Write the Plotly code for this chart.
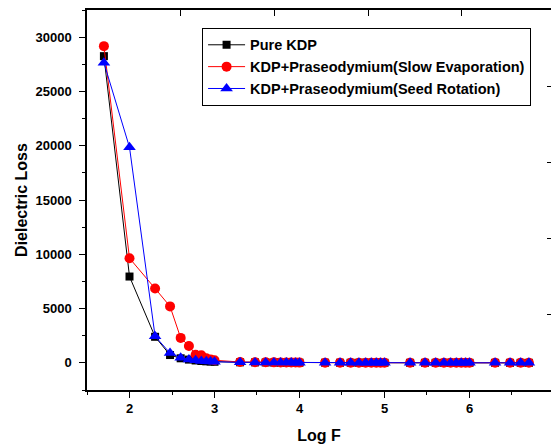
import plotly.graph_objects as go

log_f = [1.699, 2.0, 2.301, 2.477, 2.602, 2.699, 2.778, 2.845, 2.903, 2.954, 3.0,
         3.301, 3.477, 3.602, 3.699, 3.778, 3.845, 3.903, 3.954, 4.0,
         4.301, 4.477, 4.602, 4.699, 4.778, 4.845, 4.903, 4.954, 5.0,
         5.301, 5.477, 5.602, 5.699, 5.778, 5.845, 5.903, 5.954, 6.0,
         6.301, 6.477, 6.602, 6.699]

pure_kdp = [28250, 7950, 2400, 720, 420, 300, 220, 170, 140, 120, 100,
            50, 42, 36, 32, 28, 25, 22, 20, 18,
            15, 13, 12, 11, 10, 10, 9, 9, 8,
            8, 7, 7, 7, 6, 6, 6, 6, 5,
            5, 5, 5, 5]

slow_evap = [29170, 9640, 6850, 5200, 2300, 1560, 750, 690, 420, 320, 240,
             80, 60, 50, 45, 40, 35, 30, 28, 25,
             20, 18, 16, 15, 14, 13, 12, 12, 11,
             10, 10, 9, 9, 9, 8, 8, 8, 8,
             7, 7, 7, 7]

seed_rot = [27650, 19850, 2450, 900, 470, 310, 230, 180, 140, 120, 100,
            50, 42, 36, 32, 28, 25, 22, 20, 18,
            15, 13, 12, 11, 10, 10, 9, 9, 8,
            8, 7, 7, 7, 6, 6, 6, 6, 5,
            5, 5, 5, 5]

names = ["Pure KDP",
         "KDP+Praseodymium(Slow Evaporation)",
         "KDP+Praseodymium(Seed Rotation)"]

FONT = "Liberation Sans, Arial, sans-serif"

fig = go.Figure()
fig.add_trace(go.Scatter(x=log_f, y=pure_kdp, name=names[0], mode="lines+markers",
                         line=dict(color="#000000", width=1),
                         marker=dict(symbol="square", size=8, color="#000000")))
fig.add_trace(go.Scatter(x=log_f, y=slow_evap, name=names[1], mode="lines+markers",
                         line=dict(color="#FF0000", width=1),
                         marker=dict(symbol="circle", size=10, color="#FF0000")))
fig.add_trace(go.Scatter(x=log_f, y=seed_rot, name=names[2], mode="lines+markers",
                         line=dict(color="#0000FF", width=1),
                         marker=dict(symbol="triangle-up", size=11, color="#0000FF")))
# helper trace for the mirrored (top/right) tick axes
fig.add_trace(go.Scatter(x=[None], y=[None], xaxis="x2", yaxis="y2",
                         showlegend=False, hoverinfo="skip"))

fig.update_layout(
    width=551, height=444,
    margin=dict(l=87, r=0, t=10, b=54, autoexpand=False),
    paper_bgcolor="white", plot_bgcolor="white",
    font=dict(family=FONT, color="black"),
    showlegend=True,
    legend=dict(x=0.248, y=0.953, xanchor="left", yanchor="top",
                bordercolor="black", borderwidth=1, bgcolor="white",
                font=dict(family=FONT, size=14.5, color="black", weight="bold"),
                tracegroupgap=0, itemwidth=37),
    xaxis=dict(range=[1.5, 6.959], tick0=0, dtick=1, ticks="outside", ticklen=6,
               tickwidth=1, tickcolor="black", showline=True, linecolor="black",
               linewidth=1.5, mirror=True, showgrid=False, zeroline=False,
               automargin=False,
               tickfont=dict(size=13, weight="bold"),
               minor=dict(dtick=0.5, tick0=0, ticks="outside", ticklen=3,
                          tickcolor="black", showgrid=False),
               title=dict(text="Log F", font=dict(size=16, weight="bold"), standoff=14)),
    yaxis=dict(range=[-2500, 32500], tick0=0, dtick=5000, tickformat="d",
               ticks="outside", ticklen=6, ticklabelstandoff=5,
               tickwidth=1, tickcolor="black", showline=True, linecolor="black",
               linewidth=1.5, mirror=True, showgrid=False, zeroline=False,
               automargin=False,
               tickfont=dict(size=13, weight="bold"),
               minor=dict(dtick=2500, tick0=0, ticks="outside", ticklen=3,
                          tickcolor="black", showgrid=False),
               title=dict(text="Dielectric Loss", font=dict(size=16, weight="bold"), standoff=4)),
    xaxis2=dict(overlaying="x", side="top", range=[0, 4.952], tick0=0, dtick=1,
                ticks="inside", ticklen=6, tickcolor="black", showticklabels=False,
                showline=False, showgrid=False, zeroline=False, automargin=False),
    yaxis2=dict(overlaying="y", side="right", range=[0, 5], tick0=0, dtick=1,
                ticks="inside", ticklen=4, tickcolor="black", showticklabels=False,
                showline=False, showgrid=False, zeroline=False, automargin=False),
)

fig.write_html("out.html", config={"displayModeBar": False},
               post_script="document.body.style.margin='0';document.body.style.overflow='hidden';")
